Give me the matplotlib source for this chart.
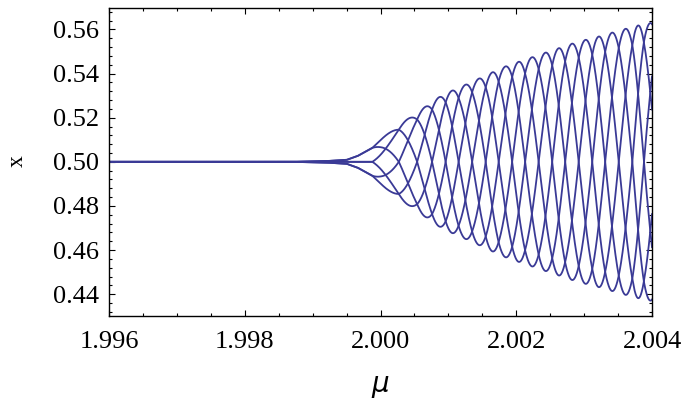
import numpy as np
import matplotlib
matplotlib.use("Agg")
import matplotlib.pyplot as plt
from matplotlib.ticker import MultipleLocator

# onset of the oscillation: envelope half-width (x - 0.5)
onset_mu = [1.9960, 1.9987, 1.9992, 1.9995, 1.99966, 1.99988, 2.00000,
            2.00014]
onset_amp = [0.0, 0.0, 0.0004, 0.0010, 0.0030, 0.0073, 0.0100, 0.0135]

# successive maxima of the top envelope (one curve after the other)
peak_mu = [2.00027, 2.00054, 2.00076, 2.00096, 2.00115, 2.00135, 2.00155,
           2.00174, 2.00194, 2.00213, 2.00233, 2.00253, 2.00272, 2.00292,
           2.00312, 2.00331, 2.00351, 2.00371, 2.00388, 2.00407]
peak_amp = [0.0168, 0.0221, 0.0273, 0.0311, 0.0334, 0.0364, 0.0390, 0.0420,
            0.0444, 0.0462, 0.0485, 0.0504, 0.0525, 0.0545, 0.0560, 0.0575,
            0.0595, 0.0610, 0.0625, 0.0632]

# where the paired branches of the fan begin to separate
split_mu = 1.99988

n_curves = 6
x_ticks = [1.996, 1.998, 2.000, 2.002, 2.004]
x_labels = ["1.996", "1.998", "2.000", "2.002", "2.004"]
y_ticks = [0.44, 0.46, 0.48, 0.50, 0.52, 0.54, 0.56]
y_labels = ["0.44", "0.46", "0.48", "0.50", "0.52", "0.54", "0.56"]

color = "#3a3a96"

fig = plt.figure(figsize=(6.84, 4.0), dpi=100)
ax = fig.add_axes([109 / 684, 1 - 315.5 / 400, 543 / 684, 308 / 400])

mu = np.linspace(1.996, 2.004, 8000)
amp = np.interp(mu, onset_mu + peak_mu, onset_amp + peak_amp)
# each top peak is the next curve, one sixth of a turn later;
# before the split the branches lie on top of each other in pairs
step = 2 * np.pi / n_curves
phase = np.interp(mu, [split_mu] + peak_mu,
                  np.arange(-0.5, len(peak_mu)) * step)

for k in range(n_curves):
    ax.plot(mu, 0.5 + amp * np.cos(phase - k * step),
            color=color, lw=1.3)

ax.set_xlim(1.996, 2.004)
ax.set_ylim(0.4304, 0.5699)
ax.set_xticks(x_ticks)
ax.set_xticklabels(x_labels)
ax.set_yticks(y_ticks)
ax.set_yticklabels(y_labels)
ax.xaxis.set_minor_locator(MultipleLocator(0.0005))
ax.yaxis.set_minor_locator(MultipleLocator(0.004))

serif = "Liberation Serif"
for lab in ax.get_xticklabels() + ax.get_yticklabels():
    lab.set_fontfamily(serif)
    lab.set_fontsize(19)

ax.tick_params(which="both", direction="in", top=True, right=True,
               width=0.8)
ax.tick_params(which="major", length=4.5)
ax.tick_params(which="minor", length=2.5)
ax.tick_params(axis="x", pad=11)
ax.tick_params(axis="y", pad=7)
for s in ax.spines.values():
    s.set_linewidth(1.0)

ax.set_xlabel(r"$\mu$", fontsize=20, labelpad=14)
ax.set_ylabel("x", fontsize=17, family=serif, labelpad=18)

fig.savefig("out.png", dpi=100)
